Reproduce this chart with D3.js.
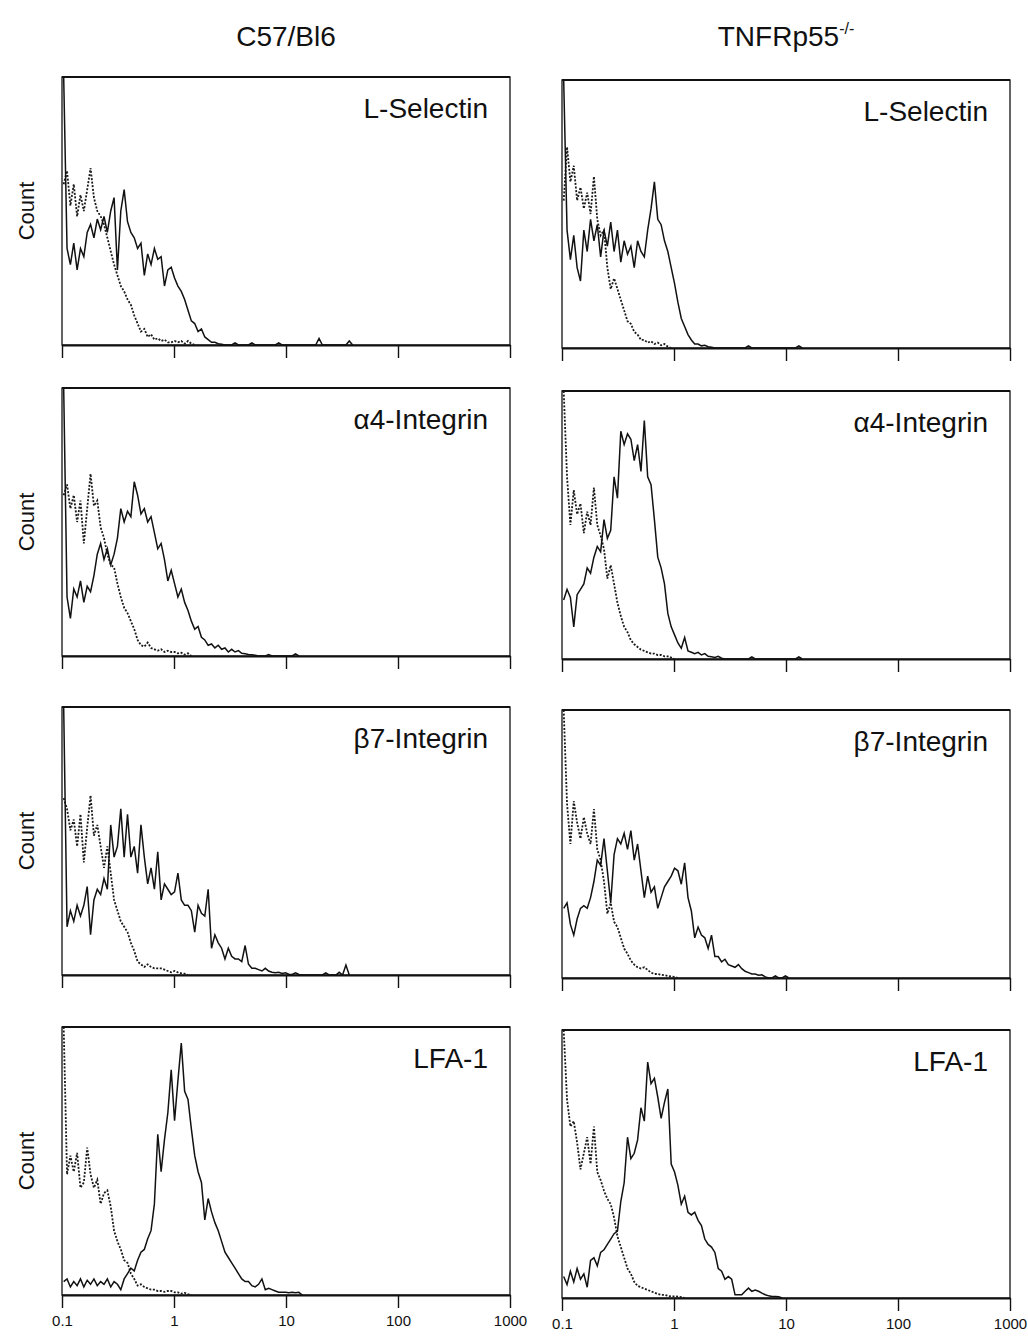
<!DOCTYPE html>
<html>
<head>
<meta charset="utf-8">
<script src="https://cdn.jsdelivr.net/npm/d3@7"></script>
<style>
  body { margin: 0; background: #fff; }
  text { font-family: "Liberation Sans", Arial, Helvetica, sans-serif; fill: #111; }
</style>
</head>
<body>
<svg id="chart" width="1028" height="1336"></svg>
<script>
// channels: log10 fluorescence, first bin starts at 0.1, 0.03 decade per bin
var binStart = -1;
var binWidth = 0.03;

var strains = ["C57/Bl6", "TNFRp55"];
var markers = ["L-Selectin", "\u03b14-Integrin", "\u03b27-Integrin", "LFA-1"];
var tickValues = [0.1, 1, 10, 100, 1000];
var tickLabels = ["0.1", "1", "10", "100", "1000"];

// counts, % of panel height (solid = antibody, dotted = isotype control)
var lselC57 = [100,36,30,38,28,36,33,42,45,40,47,43,48,42,50,55,28,50,58,46,42,40,36,38,26,34,30,36,32,33,22,28,29,25,22,20,17,13,9,8,5,6,3,2,1,1,0.5,0.3,0,0,0,0.8,0,0,0,0,0.8,0,0,0,0,0,0,0,0.8,0,0,0,0,0,0,0,0,0,0,0,2.5,0,0,0,0,0,0,0,0,1.5,0];
var lselC57Iso = [60,65,52,60,48,56,50,58,66,55,50,48,45,40,35,30,26,22,20,17,15,11,8,5,6,3,4,2,2.5,1.5,2,1,1,1.5,1,1.5,0.5,1.5,0.5,0];
var lselKO = [100,44,33,42,30,25,44,36,48,40,46,34,44,38,47,36,44,32,40,35,38,30,40,36,34,44,52,62,48,46,40,36,30,24,17,11,8,5,3,1.5,1.5,0.8,1,0.5,0.3,0,0,0,0,0,0,0,0,0,0,0.8,0,0,0,0,0,0,0,0,0,0,0,0,0,0,0.8,0];
var lselKOIso = [55,75,62,68,55,60,52,58,50,64,48,42,44,30,22,26,22,18,14,10,9,6,5,3,3,2,2.5,1.5,2,1,1.5,0.5,0];

var a4C57 = [100,22,14,25,22,28,20,26,24,30,38,42,36,40,34,38,44,55,50,54,52,65,60,53,55,50,52,46,40,42,36,28,32,27,22,25,20,17,13,10,11,7,6,4,4.5,3,4,2.5,3,1.5,2.5,1.5,2,1,0.8,0.6,0.5,0.3,0,0,0,0.5,0,0,0,0,0,0,0,0.8,0];
var a4C57Iso = [60,64,55,60,50,58,42,55,68,56,58,48,44,38,34,33,27,22,18,16,13,10,6,4,3.5,5,3,2.5,2,2.5,1.5,2,1.5,1.5,1,1.2,0.5,1,0];
var a4KO = [22,26,23,12,24,26,28,34,32,38,42,40,52,45,48,68,60,85,80,84,82,74,80,70,89,68,65,52,38,34,28,17,12,9,6,4,8,3,2.5,2,2.5,1.5,2,1,0.8,0.6,1,0.3,0,0,0,0,0,0,0,0,0.8,0,0,0,0,0,0,0,0,0,0,0,0,0,0.8,0];
var a4KOIso = [100,68,50,63,54,58,47,55,50,64,50,46,41,30,35,28,21,16,12,10,7,5.5,4.5,3.5,3,2.5,2,2,1.5,1.5,1,1,0.5,0];

var b7C57 = [100,18,24,20,26,22,26,33,15,28,32,30,36,32,56,44,48,62,44,60,44,48,38,56,44,34,40,32,46,28,34,32,30,31,38,28,26,26,24,16,26,23,22,32,10,15,12,10,6,10,7,6,6,5,11,4,2.5,2.5,2,1.5,2.5,1.5,1,0.8,1,0.6,0.8,0.3,0.2,0.8,0.2,0,0,0,0,0,0,0,0.8,0,0,0,1,0,3.7,0];
var b7C57Iso = [66,62,54,58,48,60,42,55,67,52,56,48,40,48,38,28,24,20,18,16,12,9,5,4,3,4,3,2.5,2.5,2.5,2,1.5,1,1.5,1,0.6,0.5,0];
var b7KO = [26,28,20,16,22,26,27,26,30,36,44,42,52,40,28,46,52,50,54,48,55,44,50,40,30,38,32,34,26,30,34,36,38,41,40,35,43,30,25,15,19,16,15,11,16,8,8,6,7,5,4.5,4,5,3.5,2.5,2,1.5,1.5,1,1.2,0.4,0,0,0.8,0,0,0.8,0];
var b7KOIso = [100,65,50,66,58,52,60,54,50,63,48,44,36,24,28,21,19,15,11,9,6.5,5,4,3.5,4,3,2,1.5,1.5,1.2,1,0.8,0.6,0.4,0];

var lfaC57 = [5,6,3,5,3.5,6,3,5.5,4,6,3.5,5,4,6,3,5,4,2,6,8,10,9,13,16,17,21,24,34,60,46,58,68,84,65,80,94,76,73,62,52,46,42,28,36,31,27,24,20,16,14,12,10,8,6,5,5,3.5,3,4,6,2,2.5,2,1.5,1,1,1,0.8,1,0.8,1,0];
var lfaC57Iso = [100,45,52,46,53,40,42,55,45,40,43,34,38,39,33,24,20,17,13,12,8,6,3.5,4,3,2.5,2,2,1.5,1.5,1.2,1.5,1.5,1,1,0.5,0.8,0.3,0];
var lfaKO = [8,5,10,6,11,7,9,4,14,15,12,17,18,20,22,24,25,36,43,60,52,54,59,71,66,88,80,82,75,67,73,78,50,47,42,35,38,32,31,32,29,27,22,20,19,17,11,10,7,8,7,1.2,1.2,1.2,2.5,3.7,2.5,3,2.5,1.8,1.2,0.8,0.6,0.6,0.5,0];
var lfaKOIso = [100,74,64,66,58,48,54,60,50,64,47,44,40,37,35,30,23,19,15,11,9,6,4.5,4,3.5,3,2.5,2,1.5,1.2,1.2,0.8,0.6,0.6,0.5,0.3,0];

// rows = markers, columns = strains
var panels = [
    [[lselC57, lselC57Iso], [lselKO, lselKOIso]],
    [[a4C57, a4C57Iso], [a4KO, a4KOIso]],
    [[b7C57, b7C57Iso], [b7KO, b7KOIso]],
    [[lfaC57, lfaC57Iso], [lfaKO, lfaKOIso]]
];

var colX = [62, 562];
var colDy = [0, 3];
var rowY = [77, 388, 707, 1027];
var panelW = 448;
var panelH = 268;

var svg = d3.select("#chart");

var x = d3.scaleLog().domain([0.1, 1000]).range([0, panelW]);
var y = d3.scaleLinear().domain([0, 100]).range([panelH, 0]);

var line = d3.line()
    .x(function(d, i) { return x(Math.pow(10, binStart + (i + 0.5) * binWidth)); })
    .y(function(d) { return y(d); });

// column titles
svg.append("text")
    .attr("x", colX[0] + panelW / 2)
    .attr("y", 46)
    .attr("text-anchor", "middle")
    .style("font-size", "28px")
    .text(strains[0]);

var koTitle = svg.append("text")
    .attr("x", colX[1] + panelW / 2)
    .attr("y", 46)
    .attr("text-anchor", "middle")
    .style("font-size", "28px");
koTitle.append("tspan").text(strains[1]);
koTitle.append("tspan")
    .attr("dy", -12)
    .style("font-size", "16px")
    .text("-/-");

function drawPanel(row, col) {
    var panelTop = rowY[row] + colDy[col];
    var isBottom = row === panels.length - 1;
    var g = svg.append("g")
        .attr("transform", "translate(" + colX[col] + "," + panelTop + ")");

    // frame
    g.append("rect")
        .attr("width", panelW)
        .attr("height", panelH)
        .style("fill", "none")
        .style("stroke", "#111")
        .style("stroke-width", 1.3);
    g.append("line")
        .attr("x1", 0).attr("x2", panelW)
        .attr("y1", 0).attr("y2", 0)
        .style("stroke", "#111")
        .style("stroke-width", 2);

    // axis along the bottom
    var axis = d3.axisBottom(x)
        .tickValues(tickValues)
        .tickSize(13)
        .tickSizeOuter(0)
        .tickPadding(7)
        .tickFormat(function(d, i) { return isBottom ? tickLabels[i] : ""; });
    var ax = g.append("g")
        .attr("transform", "translate(0," + panelH + ")")
        .call(axis);
    ax.select(".domain").style("stroke", "#111").style("stroke-width", 2);
    ax.selectAll(".tick line").style("stroke", "#111").style("stroke-width", 1.4);
    ax.selectAll(".tick text")
        .style("font-family", "'Liberation Sans', Arial, sans-serif")
        .style("font-size", "15px")
        .style("fill", "#111");

    // isotype control, dotted
    g.append("path")
        .datum(panels[row][col][1])
        .attr("d", line)
        .style("fill", "none")
        .style("stroke", "#1a1a1a")
        .style("stroke-width", 1.8)
        .style("stroke-dasharray", "2,1.6");

    // stained, solid
    g.append("path")
        .datum(panels[row][col][0])
        .attr("d", line)
        .style("fill", "none")
        .style("stroke", "#111")
        .style("stroke-width", 1.5);

    g.append("text")
        .attr("x", panelW - 22)
        .attr("y", 41)
        .attr("text-anchor", "end")
        .style("font-size", "28px")
        .text(markers[row]);

    if (col === 0) {
        g.append("text")
            .attr("transform", "translate(-28," + (panelH / 2) + ") rotate(-90)")
            .attr("text-anchor", "middle")
            .style("font-size", "22px")
            .text("Count");
    }
}

for (var r = 0; r < panels.length; r++) {
    drawPanel(r, 0);
    drawPanel(r, 1);
}
</script>
</body>
</html>
